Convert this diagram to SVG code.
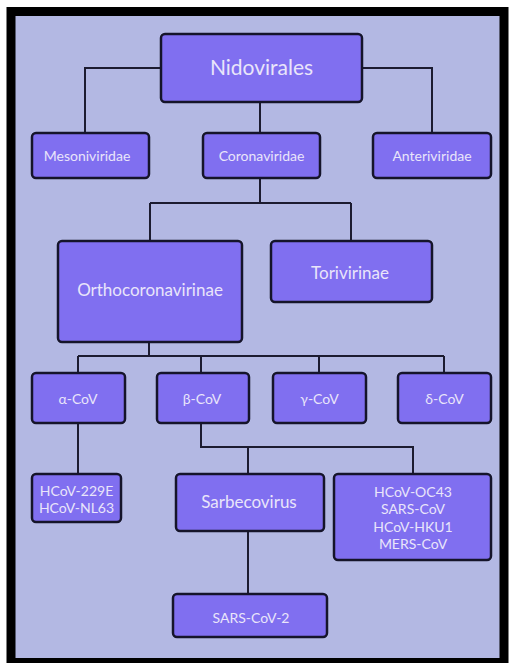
<svg xmlns="http://www.w3.org/2000/svg" width="512" height="663" viewBox="0 0 512 663">
  <style>
    .node rect { fill: #806ff0; stroke: #15142a; stroke-width: 2.5; }
    .node text { fill: #e9e5fa; font-family: Lato, "Open Sans", sans-serif; text-anchor: middle; dominant-baseline: central; }
    .s13 { font-size: 14px; }
    .s16 { font-size: 17px; }
    .s20 { font-size: 21px; }
    #links path { fill: none; stroke: #1c1b30; stroke-width: 2; }
  </style>
  <rect x="0" y="0" width="512" height="663" fill="#ffffff"/>
  <!-- frame -->
  <rect x="11" y="11.5" width="493" height="651" fill="#b3b8e3" stroke="#000000" stroke-width="9"/>

  <g id="links">
    <path d="M161 68 H85 V133"/>
    <path d="M362 68 H432 V133"/>
    <path d="M260 102 V133"/>
    <path d="M260 178 V203"/>
    <path d="M150 203 H351"/>
    <path d="M150 203 V241"/>
    <path d="M351 203 V241"/>
    <path d="M149 342 V356"/>
    <path d="M78 356 H444"/>
    <path d="M78 356 V373"/>
    <path d="M201 356 V373"/>
    <path d="M319 356 V373"/>
    <path d="M444 356 V373"/>
    <path d="M78 423 V474"/>
    <path d="M201 423 V447 H413 V474"/>
    <path d="M248 447 V474"/>
    <path d="M248 531 V594"/>
  </g>

  <g id="nidovirales" class="node">
    <rect x="161" y="34" width="201" height="68" rx="4"/>
    <text class="s20" x="261.5" y="66">Nidovirales</text>
  </g>
  <g id="mesoniviridae" class="node">
    <rect x="32" y="133" width="117" height="45" rx="4"/>
    <text class="s13" x="87" y="155">Mesoniviridae</text>
  </g>
  <g id="coronaviridae" class="node">
    <rect x="203" y="133" width="117" height="45" rx="4"/>
    <text class="s13" x="261.5" y="155">Coronaviridae</text>
  </g>
  <g id="anteriviridae" class="node">
    <rect x="373" y="133" width="118" height="45" rx="4"/>
    <text class="s13" x="432" y="155">Anteriviridae</text>
  </g>
  <g id="orthocoronavirinae" class="node">
    <rect x="58" y="241" width="184" height="101" rx="4"/>
    <text class="s16" x="150" y="289">Orthocoronavirinae</text>
  </g>
  <g id="torivirinae" class="node">
    <rect x="271" y="241" width="161" height="61" rx="4"/>
    <text class="s16" x="350" y="272">Torivirinae</text>
  </g>
  <g id="alpha-cov" class="node">
    <rect x="32" y="373" width="93" height="50" rx="4"/>
    <text class="s13" x="78" y="398">α-CoV</text>
  </g>
  <g id="beta-cov" class="node">
    <rect x="157" y="373" width="92" height="50" rx="4"/>
    <text class="s13" x="202" y="398">β-CoV</text>
  </g>
  <g id="gamma-cov" class="node">
    <rect x="273" y="373" width="93" height="50" rx="4"/>
    <text class="s13" x="319.5" y="398">γ-CoV</text>
  </g>
  <g id="delta-cov" class="node">
    <rect x="398" y="373" width="93" height="50" rx="4"/>
    <text class="s13" x="444.5" y="398">δ-CoV</text>
  </g>
  <g id="alpha-species" class="node">
    <rect x="32" y="474" width="89" height="48" rx="4"/>
    <text class="s13" x="76.5" y="490">HCoV-229E</text>
    <text class="s13" x="76.5" y="507">HCoV-NL63</text>
  </g>
  <g id="sarbecovirus" class="node">
    <rect x="176" y="474" width="148" height="57" rx="4"/>
    <text class="s16" x="249" y="501">Sarbecovirus</text>
  </g>
  <g id="beta-species" class="node">
    <rect x="334" y="474" width="157" height="86" rx="4"/>
    <text class="s13" x="413" y="491">HCoV-OC43</text>
    <text class="s13" x="413" y="508.5">SARS-CoV</text>
    <text class="s13" x="413" y="526">HCoV-HKU1</text>
    <text class="s13" x="413" y="543.5">MERS-CoV</text>
  </g>
  <g id="sars-cov-2" class="node">
    <rect x="173" y="594" width="154" height="43" rx="4"/>
    <text class="s13" x="251" y="617">SARS-CoV-2</text>
  </g>
</svg>
